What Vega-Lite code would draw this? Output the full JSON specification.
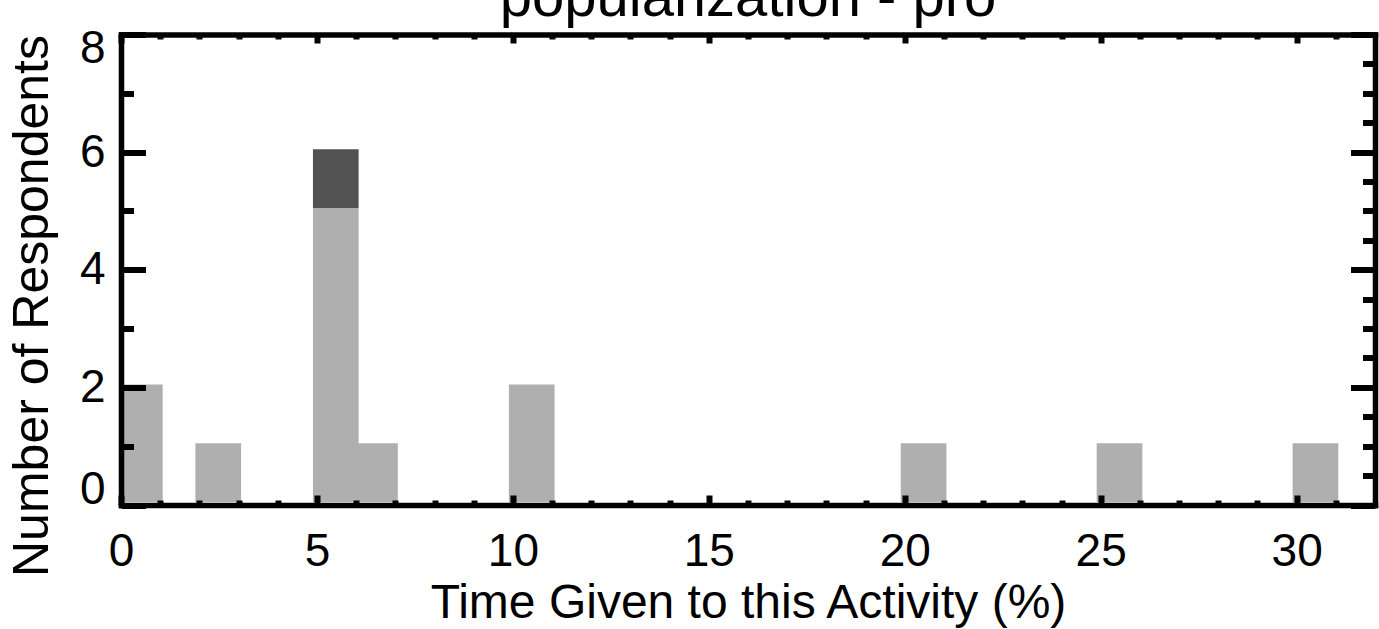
{
  "$schema": "https://vega.github.io/schema/vega-lite/v6.json",
  "width": 1254,
  "height": 470.5,
  "autosize": {"type": "none"},
  "padding": {"left": 121, "top": 34.5, "right": 4, "bottom": 124},
  "background": "white",
  "title": {
    "text": "popularization - pro",
    "font": "Liberation Sans",
    "fontSize": 58,
    "fontWeight": "normal",
    "color": "black",
    "anchor": "middle",
    "baseline": "alphabetic",
    "frame": "group",
    "offset": -49
  },
  "data": {
    "values": [
      {"bin_start": 0, "bin_end": 1, "group": "light", "layer": 1, "count": 2},
      {"bin_start": 2, "bin_end": 3, "group": "light", "layer": 1, "count": 1},
      {"bin_start": 5, "bin_end": 6, "group": "light", "layer": 1, "count": 5},
      {"bin_start": 5, "bin_end": 6, "group": "dark", "layer": 2, "count": 1},
      {"bin_start": 6, "bin_end": 7, "group": "light", "layer": 1, "count": 1},
      {"bin_start": 10, "bin_end": 11, "group": "light", "layer": 1, "count": 2},
      {"bin_start": 20, "bin_end": 21, "group": "light", "layer": 1, "count": 1},
      {"bin_start": 25, "bin_end": 26, "group": "light", "layer": 1, "count": 1},
      {"bin_start": 30, "bin_end": 31, "group": "light", "layer": 1, "count": 1}
    ]
  },
  "transform": [
    {"stack": "count", "groupby": ["bin_start"], "sort": [{"field": "layer", "order": "ascending"}], "as": ["y_lo", "y_hi"]}
  ],
  "layer": [
    {
      "mark": {"type": "bar", "clip": true, "xOffset": -4, "x2Offset": 2.5, "yOffset": -3, "y2Offset": -3, "strokeWidth": 0},
      "encoding": {
        "x": {
          "field": "bin_start",
          "type": "quantitative",
          "scale": {"domain": [0, 32], "nice": false, "zero": false},
          "axis": {
            "orient": "bottom",
            "values": [0,1,2,3,4,5,6,7,8,9,10,11,12,13,14,15,16,17,18,19,20,21,22,23,24,25,26,27,28,29,30,31],
            "format": "d",
            "labelExpr": "datum.value % 5 === 0 ? datum.label : ''",
            "tickSize": {"condition": {"test": "datum.value % 5 === 0", "value": -10}, "value": -5},
            "tickWidth": 6,
            "tickColor": "black",
            "domainWidth": 5.5,
            "domainColor": "black",
            "domainCap": "square",
            "labelFont": "Liberation Sans",
            "labelFontSize": 46,
            "labelColor": "black",
            "labelPadding": 34,
            "labelFlush": false,
            "labelOverlap": false,
            "labelBound": false,
            "title": "Time Given to this Activity (%)",
            "titleFont": "Liberation Sans",
            "titleFontSize": 48,
            "titleFontWeight": "normal",
            "titleColor": "black",
            "titleBaseline": "alphabetic",
            "titleY": 112,
            "grid": false,
            "zindex": 1
          }
        },
        "x2": {"field": "bin_end"},
        "y": {
          "field": "y_hi",
          "type": "quantitative",
          "scale": {"domain": [0, 8], "nice": false},
          "axis": {
            "orient": "left",
            "values": [0,0.5,1,1.5,2,2.5,3,3.5,4,4.5,5,5.5,6,6.5,7,7.5,8],
            "format": "d",
            "labelExpr": "datum.value % 2 === 0 ? datum.label : ''",
            "tickSize": {"condition": {"test": "datum.value % 2 === 0", "value": -24.5}, "value": -12.5},
            "tickWidth": 6,
            "tickColor": "black",
            "domainWidth": 5.5,
            "domainColor": "black",
            "domainCap": "square",
            "labelFont": "Liberation Sans",
            "labelFontSize": 46,
            "labelColor": "black",
            "labelPadding": 40.5,
            "labelFlush": true,
            "labelFlushOffset": 8.5,
            "labelOverlap": false,
            "labelBound": false,
            "title": "Number of Respondents",
            "titleFont": "Liberation Sans",
            "titleFontSize": 50,
            "titleFontWeight": "normal",
            "titleColor": "black",
            "titleAngle": 270,
            "titleBaseline": "alphabetic",
            "titleAlign": "center",
            "titleX": -74,
            "titleY": 271,
            "grid": false,
            "zindex": 1
          }
        },
        "y2": {"field": "y_lo"},
        "color": {
          "field": "group",
          "type": "nominal",
          "scale": {"domain": ["light", "dark"], "range": ["#afafaf", "#525252"]},
          "legend": null
        }
      }
    },
    {
      "mark": {"type": "bar", "opacity": 0, "clip": true},
      "encoding": {
        "x": {
          "field": "bin_start",
          "type": "quantitative",
          "axis": {
            "orient": "top",
            "values": [0,1,2,3,4,5,6,7,8,9,10,11,12,13,14,15,16,17,18,19,20,21,22,23,24,25,26,27,28,29,30,31],
            "labels": false,
            "tickSize": {"condition": {"test": "datum.value % 5 === 0", "value": -8.5}, "value": -4.5},
            "tickWidth": 6,
            "tickColor": "black",
            "domainWidth": 5.5,
            "domainColor": "black",
            "domainCap": "square",
            "title": null,
            "grid": false,
            "zindex": 1
          }
        },
        "x2": {"field": "bin_end"},
        "y": {
          "field": "y_hi",
          "type": "quantitative",
          "axis": {
            "orient": "right",
            "values": [0,0.5,1,1.5,2,2.5,3,3.5,4,4.5,5,5.5,6,6.5,7,7.5,8],
            "labels": false,
            "tickSize": {"condition": {"test": "datum.value % 2 === 0", "value": -24.5}, "value": -12.5},
            "tickWidth": 6,
            "tickColor": "black",
            "domainWidth": 5.5,
            "domainColor": "black",
            "domainCap": "square",
            "title": null,
            "grid": false,
            "zindex": 1
          }
        },
        "y2": {"field": "y_lo"}
      }
    }
  ],
  "resolve": {"axis": {"x": "independent", "y": "independent"}},
  "config": {"view": {"stroke": null}}
}
